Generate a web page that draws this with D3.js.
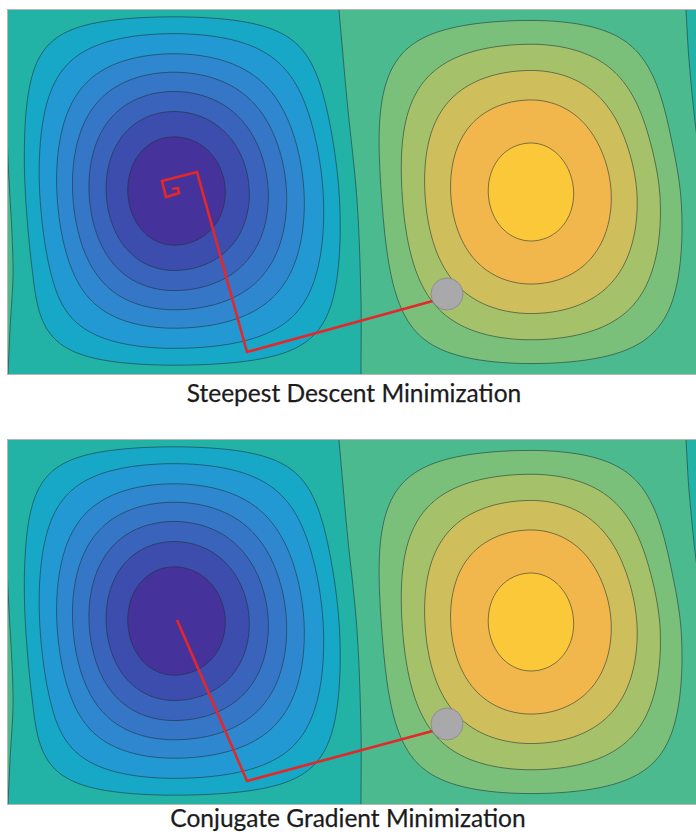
<!DOCTYPE html>
<html>
<head>
<meta charset="utf-8">
<script src="https://cdn.jsdelivr.net/npm/d3@7"></script>
<style>
  html, body { margin: 0; padding: 0; background: #ffffff; }
  svg { display: block; }
</style>
</head>
<body>
<svg id="chart" width="696" height="832"></svg>
<script>
// ---- Surface description (field units: 0..688 across, 0..364 down) ----
// Minimum (left lobe) and maximum (right lobe) centres
const minCentre = [166, 181];
const maxCentre = [523, 182];
// Vertical half-extent of each lobe (distance from centre to the zero level)
const lobeHalfHeight = [192.5, 200];
// Zero-level lines bounding the lobes, as [v, u] pairs
const leftZero  = [[0, -6], [150, 0], [257, 5], [320, 2], [364, 0]];
const midZero   = [[0, 331], [90, 339], [190, 349], [290, 353], [364, 353]];
const rightZero = [[0, 678], [50, 681], [120, 688], [190, 698], [290, 704], [364, 706]];

// Contour levels of the normalised surface
const levels = [-0.904, -0.797, -0.688, -0.566, -0.436, -0.283, -0.149, 0,
                0.2215, 0.399, 0.578, 0.750, 0.927];
// Fill for each band, lowest first
const bandColors = ['#45339b', '#3c4dad', '#3a63bb', '#3676c6', '#2f88cf', '#2399d3',
                    '#17a8c8', '#22b2a6', '#4cba8f', '#7ac07a', '#a5c26a', '#cfbe5c',
                    '#f1b74d', '#fbc83a'];

// Optimiser trajectories (field units), starting at the grey marker
const steepestPath = [[432, 289], [239, 342], [189, 162], [154, 171], [158, 187],
                      [171, 183], [170, 178], [164, 179]];
const conjugatePath = [[432, 289], [239, 341], [169, 180]];
const startPoint = [439, 284];

const titles = ['Steepest Descent Minimization', 'Conjugate Gradient Minimization'];

// ---- Layout ----
const FIELD_W = 688, FIELD_H = 364;
const panelLeft = 8, panelWidth = 688, panelHeight = 364;
const panelTops = [10, 440];
const titleBaselines = [402, 827];
const titleCentres = [354, 348];

const svg = d3.select('#chart');

// Smooth (Catmull-Rom) lookup through [v, u] knots, extrapolating linearly at the ends
function smoothLine(knots) {
  const vs = knots.map(d => d[0]), us = knots.map(d => d[1]);
  const n = knots.length;
  const slope = i => {
    const a = Math.max(0, i - 1), b = Math.min(n - 1, i + 1);
    return (us[b] - us[a]) / (vs[b] - vs[a]);
  };
  return v => {
    if (v <= vs[0]) return us[0] + slope(0) * (v - vs[0]);
    if (v >= vs[n - 1]) return us[n - 1] + slope(n - 1) * (v - vs[n - 1]);
    let i = d3.bisectRight(vs, v) - 1;
    const h = vs[i + 1] - vs[i];
    const t = (v - vs[i]) / h;
    const m0 = slope(i) * h, m1 = slope(i + 1) * h;
    const t2 = t * t, t3 = t2 * t;
    return (2 * t3 - 3 * t2 + 1) * us[i] + (t3 - 2 * t2 + t) * m0 +
           (-2 * t3 + 3 * t2) * us[i + 1] + (t3 - t2) * m1;
  };
}
const zl = smoothLine(leftZero);
const zm = smoothLine(midZero);
const zr = smoothLine(rightZero);

function surface(u, v) {
  const m = zm(v);
  const h = Math.PI / 2;
  if (u < m) {
    const cx = minCentre[0];
    const t = u < cx ? (cx - u) / (cx - zl(v)) : (u - cx) / (m - cx);
    return -Math.cos(h * t) * Math.cos(h * (v - minCentre[1]) / lobeHalfHeight[0]);
  } else {
    const cx = maxCentre[0];
    const t = u < cx ? (cx - u) / (cx - m) : (u - cx) / (zr(v) - cx);
    return Math.cos(h * t) * Math.cos(h * (v - maxCentre[1]) / lobeHalfHeight[1]);
  }
}

// Sample the surface on a grid that overhangs the panel so contour
// outlines never run along the panel edge
const M = 16;
const nx = FIELD_W + 2 * M + 1, ny = FIELD_H + 2 * M + 1;
const grid = new Float64Array(nx * ny);
for (let j = 0; j < ny; j++) {
  for (let i = 0; i < nx; i++) {
    grid[j * nx + i] = surface(i - M, j - M);
  }
}
const contours = d3.contours().size([nx, ny]).thresholds(levels)(grid);

panelTops.forEach((top, p) => {
  const x = d3.scaleLinear().domain([0, FIELD_W]).range([panelLeft, panelLeft + panelWidth]);
  const y = d3.scaleLinear().domain([0, FIELD_H]).range([top, top + panelHeight]);

  const proj = d3.geoTransform({
    point(gx, gy) { this.stream.point(x(gx - 0.5 - M), y(gy - 0.5 - M)); }
  });
  const path = d3.geoPath(proj);

  const clipId = 'clip' + p;
  svg.append('clipPath').attr('id', clipId)
    .append('rect')
    .attr('x', panelLeft).attr('y', top)
    .attr('width', panelWidth).attr('height', panelHeight);

  const g = svg.append('g').attr('clip-path', `url(#${clipId})`);

  g.append('rect')
    .attr('x', panelLeft).attr('y', top)
    .attr('width', panelWidth).attr('height', panelHeight)
    .attr('fill', bandColors[0]);

  g.selectAll('path.band')
    .data(contours)
    .join('path')
    .attr('class', 'band')
    .attr('d', path)
    .attr('fill', (d, i) => bandColors[i + 1])
    .attr('stroke', '#1f2e33')
    .attr('stroke-opacity', 0.7)
    .attr('stroke-width', 0.8);

  const traj = p === 0 ? steepestPath : conjugatePath;
  const line = d3.line().x(d => x(d[0])).y(d => y(d[1]));
  g.append('path')
    .attr('d', line(traj))
    .attr('fill', 'none')
    .attr('stroke', '#e3272b')
    .attr('stroke-width', 2.6)
    .attr('stroke-linejoin', 'miter');

  g.append('circle')
    .attr('cx', x(startPoint[0])).attr('cy', y(startPoint[1]))
    .attr('r', 16)
    .attr('fill', '#a9a9ab')
    .attr('stroke', '#8e8e90')
    .attr('stroke-width', 1);

  svg.append('rect')
    .attr('x', panelLeft - 0.5).attr('y', top - 0.5)
    .attr('width', panelWidth + 1).attr('height', panelHeight + 1)
    .attr('fill', 'none')
    .attr('stroke', '#b5b5b5')
    .attr('stroke-width', 1);

  svg.append('text')
    .attr('x', titleCentres[p]).attr('y', titleBaselines[p])
    .attr('text-anchor', 'middle')
    .attr('font-family', 'Lato, "Open Sans", sans-serif')
    .attr('font-size', 24.5)
    .attr('fill', '#1b1b1b')
    .attr('stroke', '#1b1b1b')
    .attr('stroke-width', 0.25)
    .text(titles[p]);
});
</script>
</body>
</html>
